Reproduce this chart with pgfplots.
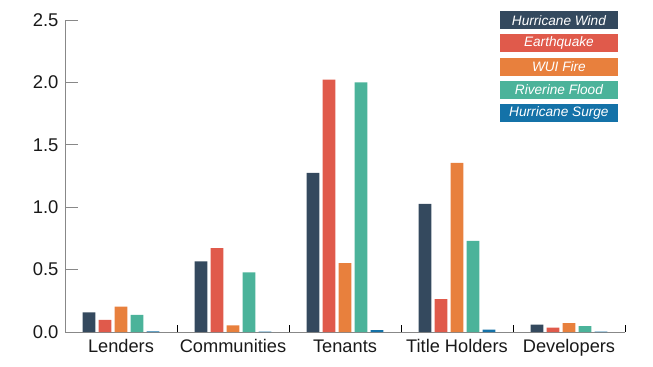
\documentclass[border=0pt]{standalone}
\usepackage{pgfplots}
\pgfplotsset{compat=1.18}
\usepackage{fontspec}
\setmainfont{Liberation Sans}
\definecolor{cwind}{HTML}{34495E}
\definecolor{cquake}{HTML}{E05A4B}
\definecolor{cfire}{HTML}{E8803D}
\definecolor{cflood}{HTML}{4BB39A}
\definecolor{csurge}{HTML}{1472A8}
\definecolor{axgray}{HTML}{888888}
\begin{document}
\begin{tikzpicture}
\begin{axis}[
  scale only axis, width=560bp, height=312bp,
  xmin=-0.5, xmax=4.5, ymin=0, ymax=2.5,
  axis lines=left, axis line style={-, draw=axgray, line width=0.8bp},
  ybar=3.3bp, bar width=12.7bp,
  xtick={0,1,2,3,4},
  xticklabels={Lenders,Communities,Tenants,Title Holders,Developers},
  minor xtick={0.5,1.5,2.5,3.5,4.5},
  ytick={0,0.5,1,1.5,2,2.5},
  yticklabel style={/pgf/number format/fixed, /pgf/number format/fixed zerofill, /pgf/number format/precision=1, xshift=-3bp},
  /pgf/number format/assume math mode=true,
  tick align=inside,
  major tick length=13bp, minor tick length=7bp,
  x tick style={draw=none},
  minor x tick style={draw=black, line width=0.8bp},
  y tick style={draw=axgray, line width=0.8bp},
  tick label style={font=\fontsize{18.5}{21}\selectfont, text=black!90},
  xticklabel style={font=\fontsize{18.3}{21}\selectfont, yshift=-4bp},
  clip=false,
]
\addplot[fill=cwind, draw=none] coordinates {(0,0.158) (1,0.565) (2,1.276) (3,1.026) (4,0.06)};
\addplot[fill=cquake, draw=none] coordinates {(0,0.097) (1,0.672) (2,2.023) (3,0.263) (4,0.035)};
\addplot[fill=cfire, draw=none] coordinates {(0,0.204) (1,0.054) (2,0.552) (3,1.356) (4,0.072)};
\addplot[fill=cflood, draw=none] coordinates {(0,0.137) (1,0.477) (2,2.0) (3,0.73) (4,0.048)};
\addplot[fill=csurge, draw=none] coordinates {(0,0.006) (1,0.004) (2,0.015) (3,0.02) (4,0.004)};
\tikzset{lg/.style={inner sep=0pt, minimum width=118bp, minimum height=18bp, text=white, font=\fontsize{13.7}{15}\selectfont\itshape}}
\node[lg, fill=cwind] at (axis cs:3.91,2.497) {Hurricane Wind};
\node[lg, fill=cquake] at (axis cs:3.91,2.313) {Earthquake};
\node[lg, fill=cfire] at (axis cs:3.91,2.124) {WUI Fire};
\node[lg, fill=cflood] at (axis cs:3.91,1.939) {Riverine Flood};
\node[lg, fill=csurge] at (axis cs:3.91,1.754) {Hurricane Surge};
\end{axis}
\path (-65bp,-35bp) rectangle (588bp,332bp);
\end{tikzpicture}
\end{document}
